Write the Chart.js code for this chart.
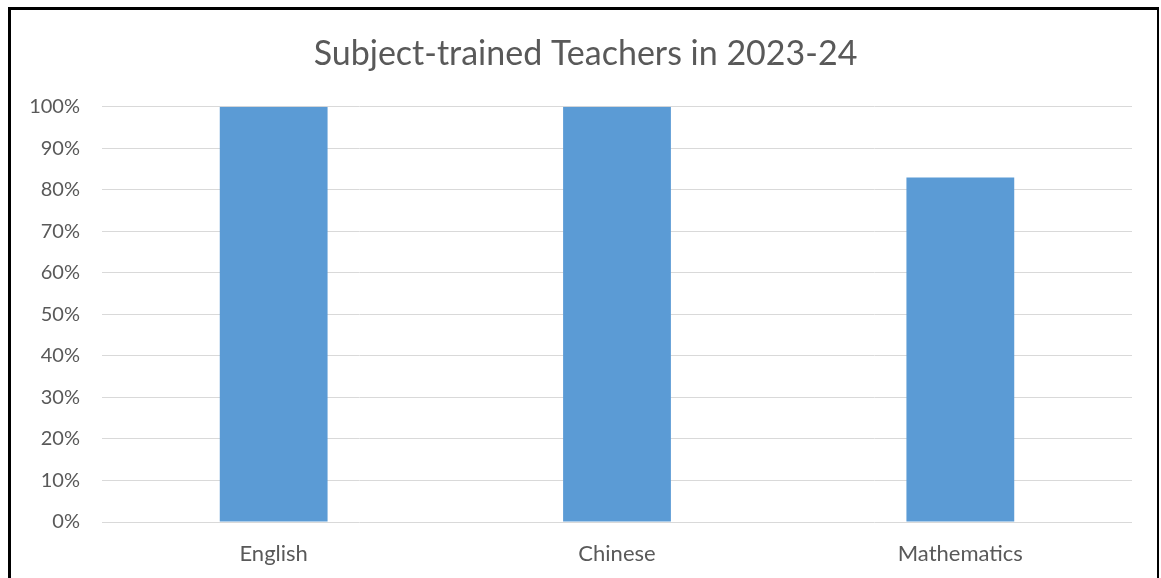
<!DOCTYPE html>
<html>
<head>
<meta charset="utf-8">
<script src="https://cdn.jsdelivr.net/npm/chart.js@4"></script>
<style>
  body { margin: 0; background: #fff; overflow: hidden; }
  #wrap { position: relative; width: 1161px; height: 578px; }
  #frame {
    position: absolute; left: 8px; top: 7px; width: 1151px; height: 620px;
    box-sizing: border-box; border-left: 3px solid #000; border-top: 3px solid #000;
    border-right: 2px solid #000; pointer-events: none;
  }
</style>
</head>
<body>
<div id="wrap">
  <canvas id="chart" width="1161" height="578"></canvas>
  <div id="frame"></div>
</div>
<script>
const subjects = ['English', 'Chinese', 'Mathematics'];
const trainedPct = [100, 100, 83];
const chartTitle = 'Subject-trained Teachers in 2023-24';

const ctx = document.getElementById('chart').getContext('2d');

const myChart = new Chart(ctx, {
    type: 'bar',
    data: {
        labels: subjects,
        datasets: [{
            data: trainedPct,
            backgroundColor: '#5b9bd5',
            borderWidth: 0,
            categoryPercentage: 1,
            barPercentage: 0.314
        }]
    },
    options: {
        responsive: false,
        animation: false,
        layout: { padding: { left: 10, right: 0, top: 0, bottom: 0 } },
        plugins: {
            legend: { display: false },
            tooltip: { enabled: false },
            title: {
                display: true,
                text: chartTitle,
                color: '#595959',
                font: { family: 'Lato', size: 34, weight: 'normal' },
                padding: { top: 34, bottom: 32 }
            }
        },
        scales: {
            x: {
                afterFit: function (scale) { scale.height = 56; },
                grid: { display: false, drawTicks: false },
                border: { display: false },
                ticks: {
                    color: '#595959',
                    font: { family: 'Lato', size: 22 },
                    padding: 19
                }
            },
            y: {
                min: 0,
                max: 100,
                afterFit: function (scale) { scale.width = 92; },
                grid: { color: '#d9d9d9', lineWidth: 1, drawTicks: false },
                border: { display: false },
                ticks: {
                    stepSize: 10,
                    color: '#595959',
                    font: { family: 'Lato', size: 20 },
                    padding: 22,
                    callback: v => v + '%'
                }
            },
            // empty axis on the right, only to keep space like the original
            yRight: {
                position: 'right',
                afterFit: function (scale) { scale.width = 29; },
                grid: { display: false, drawTicks: false },
                border: { display: false },
                ticks: { display: false }
            }
        }
    }
});
</script>
</body>
</html>
